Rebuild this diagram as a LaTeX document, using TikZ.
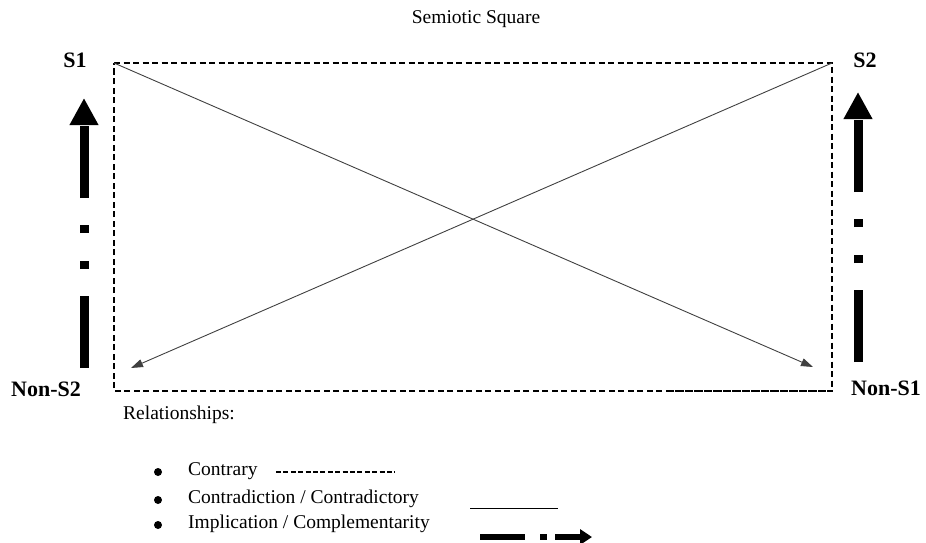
\documentclass[tikz,border=0pt]{standalone}
\usepackage{fontspec}
\setmainfont{Liberation Serif}
\usetikzlibrary{arrows.meta, positioning, calc}

\begin{document}
\begin{tikzpicture}[
    x=1pt, y=-1pt,
    corner_label/.style={font=\fontsize{22}{24}\selectfont\bfseries, inner sep=0pt},
    plain_text/.style={font=\fontsize{19.5}{22}\selectfont, inner sep=0pt},
    contrary/.style={line width=1.2pt, dash pattern=on 6pt off 3.5pt},
    contradiction/.style={line width=0.9pt, draw=black!75, -{Triangle[length=12pt, width=8pt]}},
    implication/.style={line width=9pt, line cap=butt, dash pattern=on 72pt off 27pt on 8pt off 28pt on 8pt off 27pt, -{Triangle[length=27pt, width=27pt]}}
]
\useasboundingbox (0,0) rectangle (926,543);

\node[plain_text] (title) at (476,19) {Semiotic Square};

% Square corners
\coordinate (tl) at (114,63);
\coordinate (tr) at (832,63);
\coordinate (br) at (832,391);
\coordinate (bl) at (114,391);
\coordinate (bm) at (668,391);
\coordinate (tipbl) at (131,368);
\coordinate (tipbr) at (813,367);

% Labels
\node[corner_label] (s1) at (75,60) {S1};
\node[corner_label] (s2) at (865,60) {S2};
\node[corner_label] (nons2) at (46,389) {Non-S2};
\node[corner_label] (nons1) at (886,388) {Non-S1};

% Contrary
\draw[contrary] (tl) -- (tr) -- (br) -- (bl) -- cycle;
\draw[contrary, line width=1.8pt] (bm) -- (br);

% Contradiction
\draw[contradiction] (tl) -- (tipbr);
\draw[contradiction] (tr) -- (tipbl);

% Implication
\coordinate (ltop) at (84,98);
\coordinate (lbot) at (84,368);
\coordinate (rtop) at (858,92);
\coordinate (rbot) at (858,362);
\draw[implication] (lbot) -- (ltop);
\draw[implication] (rbot) -- (rtop);

% Legend
\node[plain_text, anchor=west] (rel) at (123,415) {Relationships:};
\node[plain_text, anchor=west] (contr) at (188,471) {Contrary};
\node[plain_text, anchor=west] (contd) at (188,499) {Contradiction / Contradictory};
\node[plain_text, anchor=west] (impl) at (188,524) {Implication / Complementarity};
\foreach \n in {contr, contd, impl}
    \fill ($(\n.west)+(-30,1)$) circle (4);
\coordinate (k1a) at (276,472);
\coordinate (k1b) at (395,472);
\draw[line width=1.1pt, dash pattern=on 5pt off 2.4pt] (k1a) -- (k1b);
\coordinate (k2a) at (470,508);
\coordinate (k2b) at (558,508);
\draw[line width=0.8pt] (k2a) -- (k2b);
\coordinate (k3a) at (480,537);
\coordinate (k3b) at (592,537);
\draw[line width=6pt, line cap=butt, dash pattern=on 45pt off 15pt on 7pt off 8pt, -{Triangle[length=12pt, width=15pt]}] (k3a) -- (k3b);

\end{tikzpicture}
\end{document}
